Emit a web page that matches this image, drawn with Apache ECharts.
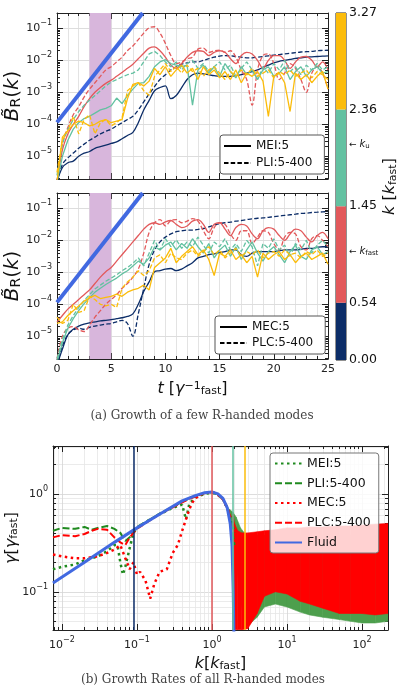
<!DOCTYPE html>
<html>
<head>
<meta charset="utf-8">
<script src="https://cdn.jsdelivr.net/npm/echarts@6/dist/echarts.min.js"></script>
<style>
html, body { margin: 0; padding: 0; background: #fff; }
#main { width: 400px; height: 686px; }
</style>
</head>
<body>
<div id="main"></div>
<script>
// time samples for panels (a), in 1/gamma_fast
const tGrid = [0,0.5,1,1.5,2,2.5,3,3.5,4,4.5,5,5.5,6,6.5,7,7.5,8,8.5,9,9.5,10,10.5,11,11.5,12,12.5,
  13,13.5,14,14.5,15,15.5,16,16.5,17,17.5,18,18.5,19,19.5,20,20.5,21,21.5,22,22.5,23,23.5,24,24.5,25];

// log10 of B_R(k), upper panel: MEI:5 (solid) and PLI:5-400 (dashed)
const topNavyS = [-5.8,-5.35,-5.2,-5.15,-5.0,-4.9,-4.85,-4.75,-4.7,-4.65,
  -4.6,-4.55,-4.45,-4.35,-4.25,-3.95,-3.55,-3.25,-2.95,-2.85,
  -2.8,-3.2,-3.1,-2.85,-2.6,-2.45,-2.4,-2.42,-2.45,-2.48,
  -2.5,-2.5,-2.5,-2.48,-2.45,-2.4,-2.35,-2.3,-2.22,-2.15,
  -2.08,-2.03,-2.0,-1.97,-1.94,-1.92,-1.9,-1.89,-1.88,-1.87,-1.86];
const topNavyD = [-5.8,-5.25,-5.05,-4.9,-4.75,-4.62,-4.5,-4.4,-4.3,-4.22,
  -4.15,-4.05,-3.95,-3.85,-3.75,-3.55,-3.3,-3.05,-2.82,-2.6,
  -2.45,-2.3,-2.2,-2.12,-2.08,-2.05,-2.05,-2.0,-1.95,-1.9,
  -1.87,-1.85,-1.86,-1.88,-1.9,-1.92,-1.92,-1.9,-1.88,-1.86,
  -1.84,-1.82,-1.8,-1.78,-1.76,-1.74,-1.73,-1.72,-1.7,-1.69,-1.68];
const topRedS = [-5.8,-4.8,-4.3,-4.0,-3.75,-3.45,-3.2,-3.0,-2.85,-2.72,
  -2.62,-2.5,-2.38,-2.25,-2.12,-1.95,-1.78,-1.62,-1.58,-1.7,
  -1.9,-2.15,-2.25,-2.1,-1.9,-1.75,-1.7,-1.72,-1.85,-1.75,
  -1.7,-1.75,-1.95,-2.1,-1.85,-1.75,-1.8,-2.0,-2.25,-2.0,
  -1.85,-1.85,-2.0,-2.25,-2.05,-1.9,-1.88,-2.0,-2.2,-2.05,-2.3];
const topRedD = [-5.8,-4.6,-4.1,-3.7,-3.45,-3.15,-2.9,-2.7,-2.5,-2.3,
  -2.2,-2.05,-1.9,-1.7,-1.55,-1.35,-1.15,-0.98,-0.95,-1.15,
  -1.47,-1.85,-2.1,-2.05,-1.95,-1.9,-1.65,-1.62,-1.75,-1.7,
  -1.68,-1.75,-1.7,-1.9,-2.3,-2.6,-3.4,-2.3,-1.85,-1.8,
  -2.1,-2.6,-2.4,-2.1,-2.25,-2.6,-3.0,-2.4,-2.2,-2.4,-2.9];
const topTealS = [-5.8,-5.0,-4.5,-4.15,-3.95,-3.82,-3.75,-3.65,-3.55,-3.5,
  -3.42,-3.18,-3.35,-3.1,-2.9,-2.72,-2.7,-2.5,-2.2,-2.05,
  -1.98,-2.1,-2.15,-2.2,-2.15,-3.4,-2.3,-2.15,-2.4,-2.2,
  -2.5,-2.1,-2.35,-2.55,-2.2,-2.45,-2.3,-2.6,-2.3,-2.2,
  -2.5,-2.4,-2.2,-2.6,-2.35,-2.2,-2.5,-2.3,-2.2,-2.4,-2.35];
const topTealD = [-5.6,-4.6,-4.15,-3.85,-3.6,-3.4,-3.25,-3.1,-2.95,-2.8,
  -2.68,-2.6,-2.52,-2.45,-2.4,-2.3,-2.05,-1.8,-1.72,-1.85,
  -2.05,-2.2,-2.05,-2.3,-2.1,-2.0,-2.25,-2.1,-2.35,-2.2,
  -2.05,-2.3,-2.15,-2.5,-2.25,-2.05,-2.3,-2.6,-2.2,-2.4,
  -2.1,-2.3,-2.0,-2.35,-2.2,-2.45,-2.15,-2.3,-2.1,-2.3,-2.2];
const topGoldS = [-5.8,-4.4,-4.2,-4.0,-3.9,-3.95,-4.05,-4.0,-3.9,-3.85,
  -3.95,-3.9,-3.85,-3.2,-2.75,-2.7,-2.8,-2.65,-2.25,-2.45,
  -2.2,-2.5,-2.3,-2.15,-2.4,-2.25,-2.6,-2.2,-2.45,-2.3,
  -2.55,-2.35,-2.6,-2.3,-2.7,-2.4,-2.5,-2.35,-2.65,-3.75,
  -2.5,-2.4,-2.7,-3.6,-2.4,-2.6,-2.45,-2.7,-2.5,-2.35,-2.9];
const topGoldD = [-5.5,-4.5,-4.2,-3.75,-4.3,-3.85,-3.7,-4.3,-3.95,-3.85,
  -4.05,-3.95,-3.8,-2.95,-2.8,-2.7,-2.95,-3.1,-2.5,-2.3,
  -2.1,-2.35,-2.2,-2.4,-2.15,-2.35,-2.25,-2.5,-2.3,-2.2,
  -2.4,-2.6,-2.35,-2.5,-2.3,-2.45,-2.25,-2.5,-2.4,-2.3,
  -2.55,-2.35,-2.45,-2.3,-2.5,-2.4,-2.3,-2.55,-2.35,-2.45,-2.6];

// log10 of B_R(k), lower panel: MEC:5 (solid) and PLC:5-400 (dashed)
const midNavyS = [-5.9,-5.4,-4.95,-4.78,-4.68,-4.62,-4.58,-4.55,-4.52,-4.5,
  -4.48,-4.45,-4.42,-4.38,-4.3,-4.0,-3.6,-3.3,-2.98,-2.95,
  -2.9,-2.88,-2.95,-2.9,-2.8,-2.7,-2.55,-2.5,-2.45,-2.42,
  -2.38,-2.35,-2.3,-2.3,-2.45,-2.5,-2.4,-2.35,-2.35,-2.35,
  -2.35,-2.33,-2.3,-2.3,-2.3,-2.28,-2.25,-2.25,-2.22,-2.2,-2.2];
const midNavyD = [-5.9,-5.3,-4.95,-4.8,-4.75,-4.78,-4.72,-4.68,-4.65,-4.62,
  -4.6,-4.55,-4.5,-4.6,-5.0,-4.3,-3.5,-2.75,-2.3,-2.05,
  -1.9,-1.8,-1.73,-1.7,-1.68,-1.68,-1.66,-1.63,-1.58,-1.52,
  -1.48,-1.45,-1.43,-1.4,-1.38,-1.35,-1.33,-1.31,-1.3,-1.28,
  -1.26,-1.24,-1.22,-1.2,-1.18,-1.16,-1.15,-1.13,-1.12,-1.11,-1.1];
const midRedS = [-4.55,-4.35,-4.15,-4.0,-3.85,-3.7,-3.55,-3.35,-3.15,-2.98,
  -2.85,-2.65,-2.45,-2.25,-2.05,-1.85,-1.65,-1.5,-1.45,-1.5,
  -1.42,-1.38,-1.5,-1.6,-1.55,-1.4,-1.35,-1.5,-1.75,-1.5,
  -1.45,-1.65,-1.85,-1.6,-1.5,-1.55,-1.8,-1.95,-1.7,-1.6,
  -1.65,-1.85,-2.0,-1.8,-1.65,-1.7,-1.9,-2.05,-1.85,-1.75,-1.95];
const midRedD = [-5.7,-5.0,-4.75,-4.7,-4.8,-4.85,-4.65,-4.4,-4.2,-4.0,
  -3.85,-3.7,-3.5,-3.35,-3.15,-2.9,-2.4,-1.75,-1.45,-1.35,
  -1.55,-1.38,-1.35,-1.45,-1.4,-1.32,-1.4,-1.7,-1.95,-1.6,
  -1.45,-1.5,-1.8,-2.0,-1.7,-1.7,-2.1,-1.9,-1.7,-1.75,
  -2.1,-2.3,-1.9,-1.75,-1.8,-2.2,-2.3,-1.95,-1.85,-2.0,-2.2];
const midTealS = [-5.8,-5.2,-4.75,-4.45,-4.2,-3.98,-3.8,-3.62,-3.5,-3.38,
  -3.28,-3.18,-3.05,-2.95,-2.8,-2.65,-2.75,-2.55,-2.2,-2.3,
  -2.15,-2.05,-2.3,-2.1,-2.25,-1.95,-2.2,-2.4,-2.1,-2.55,
  -2.3,-2.15,-2.5,-2.2,-2.6,-2.3,-2.05,-2.4,-2.65,-2.35,
  -2.2,-2.45,-2.7,-2.35,-2.15,-2.5,-2.6,-2.3,-2.2,-2.45,-2.35];
const midTealD = [-5.7,-5.1,-4.65,-4.35,-4.1,-3.88,-3.7,-3.52,-3.4,-3.28,
  -3.18,-3.08,-2.95,-2.85,-2.72,-2.55,-2.8,-2.4,-2.0,-2.3,
  -1.95,-2.2,-1.98,-2.25,-2.05,-2.2,-1.9,-2.15,-2.4,-2.05,
  -2.2,-1.95,-2.3,-2.1,-2.35,-2.0,-2.2,-2.8,-2.1,-2.25,
  -1.95,-2.3,-2.15,-2.5,-2.1,-2.3,-2.0,-2.4,-2.15,-2.0,-2.2];
const midGoldS = [-4.6,-4.55,-4.35,-4.2,-4.05,-3.9,-3.8,-3.72,-3.82,-3.78,
  -3.75,-3.68,-3.75,-3.62,-3.55,-3.5,-3.4,-3.55,-2.85,-2.7,
  -2.55,-2.25,-2.7,-2.5,-2.35,-2.2,-2.45,-2.3,-2.6,-3.1,
  -2.4,-2.5,-2.3,-2.6,-2.45,-2.7,-2.5,-3.15,-2.4,-2.6,
  -2.45,-2.35,-2.6,-2.45,-2.7,-2.5,-2.4,-2.6,-2.5,-2.4,-2.75];
const midGoldD = [-4.4,-4.6,-4.5,-4.0,-4.25,-4.2,-3.75,-3.85,-4.0,-4.05,
  -4.0,-4.1,-3.5,-3.3,-3.15,-2.95,-3.1,-2.95,-2.55,-2.45,
  -2.7,-2.4,-2.55,-2.6,-2.4,-2.3,-2.5,-2.35,-2.2,-2.45,
  -2.3,-2.55,-2.4,-2.25,-2.5,-2.35,-2.45,-2.3,-2.55,-2.4,
  -2.35,-2.5,-2.3,-2.45,-2.4,-2.55,-2.35,-2.45,-2.3,-2.5,-2.4];

// fluid growth line and the shaded interval in panels (a)
const fluidT = [0, 7.9];
const fluidB = [1.15e-4, 0.302];
const bandT = [3, 5];

// colour bar (k in k_fast)
const cbEdges = [0, 0.54, 1.45, 2.36, 3.27];
const kFastMark = 1.02;
const kUMark = 2.03;

// panel (b): growth rate gamma vs k
const fluidK = [0.0076,0.02,0.05,0.1,0.2,0.4,0.6,0.8,1.0,1.2,1.4,1.6,1.75,1.85,1.92,1.97];
const fluidG = [0.123,0.2,0.32,0.45,0.62,0.85,0.96,1.03,1.05,1.0,0.9,0.72,0.5,0.3,0.1,0.03];
const meiK = [0.0076,0.01,0.015,0.02,0.03,0.04,0.05,0.055,0.06,0.065,0.07,0.08,0.09,0.1,0.15,0.2,0.3,0.4,0.45,0.5,0.6,0.8,1.0,1.2,1.4,1.6,1.8,2.0];
const meiG = [0.17,0.18,0.19,0.21,0.23,0.26,0.3,0.3,0.2,0.15,0.18,0.28,0.4,0.45,0.55,0.62,0.72,0.78,0.55,0.8,0.92,1.0,1.03,0.98,0.88,0.72,0.55,0.4];
const pliK = [0.0076,0.01,0.015,0.02,0.025,0.03,0.04,0.05,0.06,0.07,0.08,0.09,0.1,0.15,0.2,0.3,0.4,0.5,0.6,0.8,1.0,1.2,1.4,1.6,1.8,2.0];
const pliG = [0.42,0.45,0.44,0.46,0.43,0.45,0.47,0.44,0.4,0.33,0.36,0.42,0.46,0.55,0.63,0.74,0.83,0.9,0.95,1.02,1.04,0.98,0.88,0.72,0.5,0.3];
const mecK = [0.0076,0.01,0.015,0.02,0.03,0.04,0.05,0.06,0.07,0.08,0.09,0.1,0.11,0.13,0.15,0.17,0.2,0.25,0.3,0.35,0.4,0.45,0.5,0.55,0.6,0.7,0.8,1.0,1.2,1.4,1.6,1.8];
const mecG = [0.24,0.23,0.22,0.22,0.23,0.25,0.27,0.3,0.22,0.17,0.2,0.15,0.16,0.13,0.085,0.12,0.16,0.17,0.25,0.3,0.42,0.55,0.7,0.82,0.9,0.98,1.02,1.05,0.98,0.88,0.72,0.55];
const plcK = [0.0076,0.01,0.015,0.02,0.025,0.03,0.04,0.05,0.06,0.07,0.08,0.1,0.15,0.2,0.3,0.4,0.5,0.6,0.8,1.0,1.2,1.4,1.6,1.8];
const plcG = [0.36,0.38,0.37,0.39,0.42,0.44,0.43,0.36,0.32,0.3,0.36,0.44,0.54,0.62,0.73,0.82,0.89,0.94,1.02,1.05,0.99,0.88,0.72,0.55];
// spread of the noisy high-k growth rates
const greenBandK = [1.7,1.9,2.1,2.4,2.7,3,4,5,7,10,15,20,30,50,70,100,150,222];
const greenBandLo = [0.6,0.45,0.2,0.08,0.05,0.045,0.055,0.07,0.075,0.07,0.062,0.058,0.055,0.052,0.05,0.048,0.048,0.05];
const greenBandHi = [0.7,0.65,0.58,0.45,0.4,0.38,0.38,0.38,0.38,0.38,0.38,0.38,0.38,0.38,0.38,0.38,0.38,0.38];
const redBandK = [1.9,2.0,2.2,2.5,3,4,5,7,10,15,20,30,50,70,100,150,222];
const redBandLo = [0.041,0.041,0.041,0.041,0.042,0.06,0.09,0.1,0.095,0.08,0.075,0.068,0.06,0.06,0.06,0.058,0.06];
const redBandHi = [0.62,0.5,0.42,0.4,0.4,0.41,0.42,0.43,0.45,0.45,0.46,0.46,0.47,0.47,0.48,0.49,0.5];
// k of the sampled modes (vertical lines)
const kModes = [0.09, 0.98, 1.87, 2.7];

const NAVY = '#0c2d68', RED = '#e2595b', TEAL = '#63c1a1', GOLD = '#fbbc0b';
const modeColors = [NAVY, RED, TEAL, GOLD];
const BLUE = '#4169e1', GREEN = '#1f8a1f', PURE_RED = '#ff0000';
const FONT = 'DejaVu Sans';

const supRich = {
  b: { fontSize: 11, fontFamily: FONT, color: '#222', lineHeight: 18 },
  s: { fontSize: 8, fontFamily: FONT, color: '#222', verticalAlign: 'top', lineHeight: 8 }
};
function powFmt(v) {
  const e = Math.round(Math.log10(v));
  return '{b|10}{s|' + (e < 0 ? '\u2212' : '') + Math.abs(e) + '}';
}
function majors(min, max) {
  const out = [];
  for (let e = Math.ceil(Math.log10(min)); e <= Math.floor(Math.log10(max)); e++) out.push(Math.pow(10, e));
  return out;
}
function minors(min, max) {
  const out = [];
  for (let e = Math.floor(Math.log10(min)); e <= Math.ceil(Math.log10(max)); e++) {
    for (let m = 2; m < 10; m++) {
      const v = m * Math.pow(10, e);
      if (v >= min && v <= max) out.push(v);
    }
  }
  return out;
}
function nameRich(size) {
  return {
    n: { fontSize: size, fontFamily: FONT, color: '#111' },
    i: { fontSize: size, fontFamily: FONT, fontStyle: 'italic', color: '#111' },
    s: { fontSize: Math.round(size * 0.68), fontFamily: FONT, color: '#111', verticalAlign: 'bottom', lineHeight: Math.round(size * 0.75) },
    p: { fontSize: Math.round(size * 0.68), fontFamily: FONT, color: '#111', verticalAlign: 'top', lineHeight: Math.round(size * 0.75) }
  };
}

// four log axes per side pair: labelled major, minor, opposite major, opposite minor
function logAxes(dim, gi, min, max, opt) {
  const maj = majors(min, max), mnr = minors(min, max);
  const pos = dim === 'x' ? ['bottom', 'top'] : ['left', 'right'];
  const base = { type: 'log', logBase: 10, gridIndex: gi, min: min, max: max };
  return [
    Object.assign({}, base, {
      position: pos[0],
      axisLine: { show: true, onZero: false, lineStyle: { color: '#222' } },
      axisTick: { show: true, inside: true, length: 6, customValues: maj, lineStyle: { color: '#222' } },
      axisLabel: { show: true, customValues: maj, formatter: powFmt, rich: supRich, margin: opt.margin },
      splitLine: { show: true, lineStyle: { color: '#d4d4d4', width: 0.8 } },
      name: opt.name, nameLocation: 'middle', nameGap: opt.nameGap, nameRotate: opt.nameRotate,
      nameMoveOverlap: false,
      nameTextStyle: { rich: nameRich(opt.nameSize) }
    }),
    Object.assign({}, base, {
      position: pos[0],
      axisLine: { show: false, onZero: false },
      axisTick: { show: true, inside: true, length: 3, customValues: mnr, lineStyle: { color: '#222' } },
      axisLabel: { show: false },
      splitLine: { show: !!opt.minorGrid, lineStyle: { color: '#e6e6e6', width: 0.8 } }
    }),
    Object.assign({}, base, {
      position: pos[1],
      axisLine: { show: true, onZero: false, lineStyle: { color: '#222' } },
      axisTick: { show: true, inside: true, length: 6, customValues: maj, lineStyle: { color: '#222' } },
      axisLabel: { show: false }, splitLine: { show: false }
    }),
    Object.assign({}, base, {
      position: pos[1],
      axisLine: { show: false, onZero: false },
      axisTick: { show: true, inside: true, length: 3, customValues: mnr, lineStyle: { color: '#222' } },
      axisLabel: { show: false }, splitLine: { show: false }
    })
  ];
}
function timeAxes(gi, withLabels) {
  const base = {
    type: 'value', gridIndex: gi, min: 0, max: 25, interval: 5,
    axisLine: { show: true, onZero: false, lineStyle: { color: '#222' } },
    axisTick: { show: true, inside: true, length: 6, lineStyle: { color: '#222' } },
    minorTick: { show: true, splitNumber: 5, length: 3, lineStyle: { color: '#222' } }
  };
  return [
    Object.assign({}, base, {
      position: 'bottom',
      axisLabel: { show: withLabels, fontSize: 11, fontFamily: FONT, color: '#222', margin: 5 },
      splitLine: { show: true, lineStyle: { color: '#dcdcdc', width: 0.8 } },
      minorSplitLine: { show: true, lineStyle: { color: '#dcdcdc', width: 0.8 } },
      name: withLabels ? '{i|t}{n| [}{i|\u03b3}{p|\u22121}{s|fast}{n|]}' : '',
      nameLocation: 'middle', nameGap: 22, nameTextStyle: { rich: nameRich(16) }
    }),
    Object.assign({}, base, { position: 'top', axisLabel: { show: false }, splitLine: { show: false } })
  ];
}

const yTopMin = 1.95e-6, yTopMax = 0.302;
const bName = '{i|B\u0303}{s|R}{n|(}{i|k}{n|)}';

const xAxes = [].concat(
  timeAxes(0, false),
  timeAxes(1, true),
  logAxes('x', 2, 0.0076, 222, { margin: 6, minorGrid: true, nameGap: 26, nameSize: 16,
    name: '{i|k}{n|[}{i|k}{s|fast}{n|]}' }),
  [{ type: 'category', gridIndex: 3, data: ['k'], show: false }]
);
const yAxes = [].concat(
  logAxes('y', 0, yTopMin, yTopMax, { margin: 5, name: bName, nameGap: 34, nameRotate: 90, nameSize: 20 }),
  logAxes('y', 1, yTopMin, yTopMax, { margin: 5, name: bName, nameGap: 34, nameRotate: 90, nameSize: 20 }),
  logAxes('y', 2, 0.0407, 3.09, { margin: 5, minorGrid: true, nameGap: 33, nameRotate: 90, nameSize: 16,
    name: '{i|\u03b3}{n|[}{i|\u03b3}{s|fast}{n|]}' }),
  [{
    type: 'value', gridIndex: 3, min: 0, max: 3.27, position: 'right',
    axisLine: { show: false, onZero: false }, axisTick: { show: false }, splitLine: { show: false },
    axisLabel: {
      customValues: cbEdges.concat([kFastMark, kUMark]), margin: 3,
      formatter: function (v) {
        if (v === kUMark) return '{a|\u2190 }{i|k}{s|u}';
        if (v === kFastMark) return '{a|\u2190 }{i|k}{s|fast}';
        return '{n|' + v.toFixed(2) + '}';
      },
      rich: {
        n: { fontSize: 12.5, fontFamily: FONT, color: '#111' },
        a: { fontSize: 9, fontFamily: FONT, color: '#111' },
        i: { fontSize: 10, fontFamily: FONT, fontStyle: 'italic', color: '#111' },
        s: { fontSize: 7, fontFamily: FONT, color: '#111', verticalAlign: 'bottom', lineHeight: 8 }
      }
    },
    name: '{i|k}{n| [}{i|k}{s|fast}{n|]}', nameLocation: 'middle', nameGap: 36, nameRotate: 90,
    nameTextStyle: { rich: nameRich(16) }
  }]
);

function expPairs(arr) { return tGrid.map((t, i) => [t, Math.pow(10, arr[i])]); }
function pairs(xs, ys) { return xs.map((x, i) => [x, ys[i]]); }

function tLine(arr, color, dashed, xi, yi, smooth) {
  return {
    type: 'line', data: expPairs(arr), xAxisIndex: xi, yAxisIndex: yi, symbol: 'none',
    smooth: smooth ? 0.35 : false, silent: true, z: 3,
    lineStyle: { color: color, width: 1.3, type: dashed ? [4.5, 2.2] : 'solid' }
  };
}
function panelSeries(xi, yi, lines, legendNames) {
  const out = [];
  out.push({
    type: 'line', data: [], xAxisIndex: xi, yAxisIndex: yi, z: 1, silent: true,
    markArea: { silent: true, itemStyle: { color: '#d8b6dc' }, data: [[{ xAxis: bandT[0] }, { xAxis: bandT[1] }]] }
  });
  lines.forEach(l => out.push(tLine(l[0], l[1], l[2], xi, yi, l[3])));
  out.push({
    type: 'line', data: pairs(fluidT, fluidB), xAxisIndex: xi, yAxisIndex: yi, symbol: 'none', z: 4,
    silent: true, lineStyle: { color: BLUE, width: 4 }
  });
  out.push({ type: 'line', name: legendNames[0], data: [], xAxisIndex: xi, yAxisIndex: yi, symbol: 'none',
    lineStyle: { color: '#000', width: 1.5 }, itemStyle: { color: '#000' } });
  out.push({ type: 'line', name: legendNames[1], data: [], xAxisIndex: xi, yAxisIndex: yi, symbol: 'none',
    lineStyle: { color: '#000', width: 1.5, type: [4.5, 2.2] }, itemStyle: { color: '#000' } });
  return out;
}

const series = [].concat(
  panelSeries(0, 0, [
    [topNavyS, NAVY, false, true], [topNavyD, NAVY, true, true],
    [topRedS, RED, false, true], [topRedD, RED, true, true],
    [topTealS, TEAL, false], [topTealD, TEAL, true],
    [topGoldS, GOLD, false], [topGoldD, GOLD, true]
  ], ['MEI:5', 'PLI:5-400']),
  panelSeries(2, 4, [
    [midNavyS, NAVY, false, true], [midNavyD, NAVY, true, true],
    [midRedS, RED, false, true], [midRedD, RED, true, true],
    [midTealS, TEAL, false], [midTealD, TEAL, true],
    [midGoldS, GOLD, false], [midGoldD, GOLD, true]
  ], ['MEC:5', 'PLC:5-400'])
);

// panel (b): spread of points drawn as a filled band between lo and hi
function bandSeries(ks, lo, hi, color) {
  return {
    type: 'custom', xAxisIndex: 4, yAxisIndex: 8, silent: true, z: 2, clip: true,
    encode: { x: 0, y: [1, 2] },
    data: ks.slice(0, -1).map((k, i) => [k, lo[i], hi[i]]),
    renderItem: function (params, api) {
      const i = params.dataIndex;
      const pts = [
        api.coord([ks[i], lo[i]]), api.coord([ks[i], hi[i]]),
        api.coord([ks[i + 1], hi[i + 1]]), api.coord([ks[i + 1], lo[i + 1]])
      ];
      return { type: 'polygon', shape: { points: pts }, style: { fill: color, stroke: color, lineWidth: 0.6 } };
    }
  };
}
series.push(bandSeries(greenBandK, greenBandLo, greenBandHi, '#4d9f4d'));
series.push(bandSeries(redBandK, redBandLo, redBandHi, PURE_RED));
series.push(
  { type: 'line', name: 'MEI:5 ', data: pairs(meiK, meiG), xAxisIndex: 4, yAxisIndex: 8, symbol: 'none', z: 3,
    silent: true, lineStyle: { color: GREEN, width: 2.5, type: [2.5, 3.5] }, itemStyle: { color: GREEN } },
  { type: 'line', name: 'PLI:5-400 ', data: pairs(pliK, pliG), xAxisIndex: 4, yAxisIndex: 8, symbol: 'none', z: 3,
    silent: true, lineStyle: { color: GREEN, width: 2, type: [7, 3] }, itemStyle: { color: GREEN } },
  { type: 'line', name: 'MEC:5 ', data: pairs(mecK, mecG), xAxisIndex: 4, yAxisIndex: 8, symbol: 'none', z: 3,
    silent: true, lineStyle: { color: PURE_RED, width: 2.5, type: [2.5, 3.5] }, itemStyle: { color: PURE_RED } },
  { type: 'line', name: 'PLC:5-400 ', data: pairs(plcK, plcG), xAxisIndex: 4, yAxisIndex: 8, symbol: 'none', z: 3,
    silent: true, lineStyle: { color: PURE_RED, width: 2, type: [7, 3] }, itemStyle: { color: PURE_RED } },
  { type: 'line', name: 'Fluid', data: pairs(fluidK, fluidG), xAxisIndex: 4, yAxisIndex: 8, symbol: 'none', z: 4,
    silent: true, lineStyle: { color: BLUE, width: 3 }, itemStyle: { color: BLUE },
    markLine: { silent: true, symbol: 'none', label: { show: false }, animation: false,
      data: kModes.map((k, i) => ({ xAxis: k, lineStyle: { color: modeColors[i], width: 1.5, type: 'solid' } })) } }
);

// colour bar as a stacked bar
cbEdges.slice(1).forEach((e, i) => {
  series.push({ type: 'bar', stack: 'cb', xAxisIndex: 8, yAxisIndex: 12, data: [e - cbEdges[i]],
    barWidth: '100%', silent: true, itemStyle: { color: modeColors[i] } });
});

const legendBase = {
  orient: 'vertical', itemWidth: 27, itemHeight: 12, selectedMode: false,
  itemStyle: { opacity: 0 },
  textStyle: { fontSize: 12, fontFamily: FONT, color: '#111' },
  backgroundColor: '#fff', borderColor: '#555', borderWidth: 1, borderRadius: 3
};

const option = {
  animation: false,
  backgroundColor: '#fff',
  grid: [
    { left: 57, top: 13, width: 271, height: 166, outerBoundsMode: 'none' },
    { left: 57, top: 193, width: 271, height: 166, outerBoundsMode: 'none' },
    { left: 53, top: 446, width: 335, height: 184, outerBoundsMode: 'none' },
    { left: 336, top: 13, width: 10, height: 347, outerBoundsMode: 'none', show: true, borderColor: '#222', borderWidth: 1, backgroundColor: 'transparent' }
  ],
  xAxis: xAxes,
  yAxis: yAxes,
  legend: [
    Object.assign({}, legendBase, { data: ['MEI:5', 'PLI:5-400'], left: 220, top: 135, itemGap: 5, padding: [5, 12, 5, 3] }),
    Object.assign({}, legendBase, { data: ['MEC:5', 'PLC:5-400'], left: 215, top: 316, itemGap: 4, padding: [5, 12, 5, 4] }),
    Object.assign({}, legendBase, { data: ['MEI:5 ', 'PLI:5-400 ', 'MEC:5 ', 'PLC:5-400 ', 'Fluid'], left: 270, top: 453,
      itemGap: 6.75, padding: [4, 8, 4, 4], backgroundColor: 'rgba(255,255,255,0.82)', borderColor: '#777',
      textStyle: { fontSize: 12.5, fontFamily: FONT, color: '#111' },
      formatter: function (n) { return n.trim(); } })
  ],
  title: [
    { text: '(a) Growth of a few R-handed modes', left: 197, top: 405, textAlign: 'center',
      textStyle: { fontFamily: 'DejaVu Serif', fontSize: 12, fontWeight: 'normal', color: '#444' } },
    { text: '(b) Growth Rates of all R-handed modes', left: 198, top: 669, textAlign: 'center',
      textStyle: { fontFamily: 'DejaVu Serif', fontSize: 12, fontWeight: 'normal', color: '#444' } }
  ],
  series: series
};

const chart = echarts.init(document.getElementById('main'), null, { renderer: 'canvas' });
chart.setOption(option);
</script>
</body>
</html>
